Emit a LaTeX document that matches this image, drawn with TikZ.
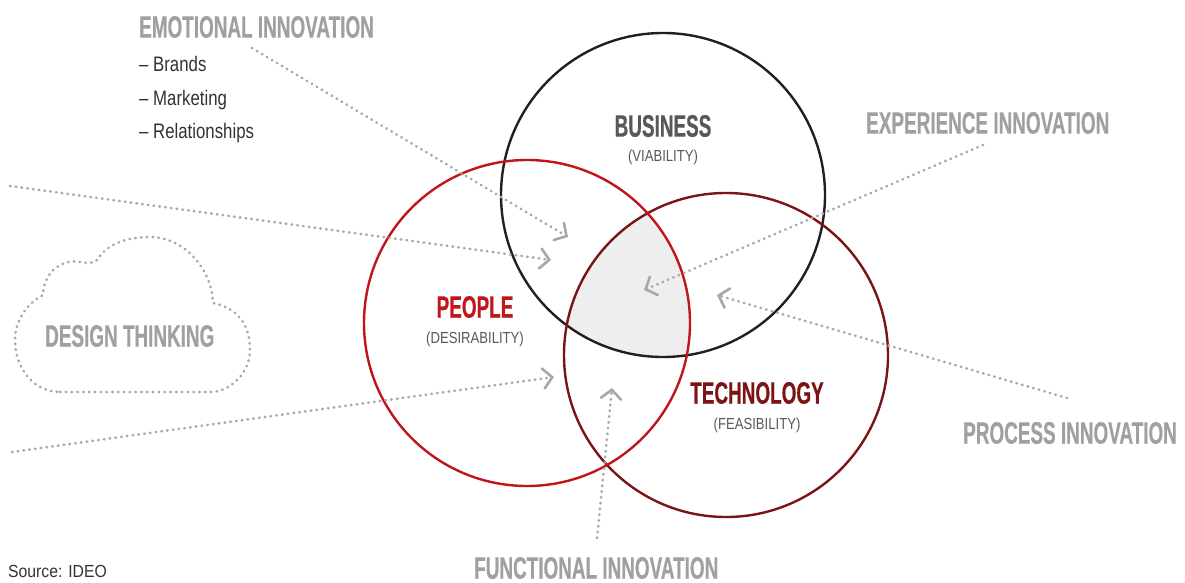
\documentclass[tikz,border=0pt]{standalone}
\usepackage{fontspec}
\setmainfont{Liberation Sans}
\newfontfamily\hdfont{Liberation Sans}[FakeStretch=0.61,FakeBold=0.5]
\newfontfamily\subfont{Liberation Sans}[FakeStretch=0.82]
\newfontfamily\srcfont{Liberation Sans}[FakeStretch=0.9]
\newfontfamily\listfont{Liberation Sans}[FakeStretch=0.8]
\usetikzlibrary{arrows.meta}
\definecolor{lbl}{HTML}{A0A0A2}
\definecolor{dotgray}{HTML}{A8A8AA}
\definecolor{pred}{HTML}{C0151B}
\definecolor{tred}{HTML}{7B1416}
\definecolor{bblack}{HTML}{231F20}
\definecolor{bizgray}{HTML}{58585A}
\definecolor{subgray}{HTML}{58585A}
\definecolor{listgray}{HTML}{333333}
\definecolor{triofill}{HTML}{EEEEEE}
\begin{document}
\begin{tikzpicture}[x=1pt,y=-1pt,
  head/.style={font=\hdfont\bfseries\fontsize{31}{31}\selectfont, text=lbl, inner sep=0pt},
  ctitle/.style={font=\hdfont\bfseries\fontsize{31}{31}\selectfont, inner sep=0pt},
  csub/.style={font=\subfont\fontsize{16}{16}\selectfont, text=subgray, inner sep=0pt},
  litem/.style={font=\listfont\fontsize{21}{21}\selectfont, text=listgray, inner sep=0pt, anchor=base west},
  dotline/.style={draw=dotgray, line width=2.7pt, dash pattern=on 0.5pt off 5.3pt, line cap=round},
  dotarrow/.style={dotline, -{Straight Barb[length=9pt,width=20pt,line width=2.6pt,line cap=round]}},
  ring/.style={line width=2.4pt}]
\useasboundingbox (0,0) rectangle (1185,583);

% filled triple intersection
\begin{scope}
  \clip (527,323) circle[radius=163];
  \clip (663,195) circle[radius=162];
  \fill[triofill] (726,355) circle[radius=162];
\end{scope}

% circles
\draw[ring, draw=bblack] (663,195) circle[radius=162];
\draw[ring, draw=tred] (726,355) circle[radius=162];
\draw[ring, draw=pred] (527,323) circle[radius=163];

% circle labels
\node[ctitle, text=bizgray] (biz) at (663,126) {BUSINESS};
\node[csub] (viab) at (663,157) {(VIABILITY)};
\node[ctitle, text=pred] (ppl) at (475,307) {PEOPLE};
\node[csub] (desi) at (475,339) {(DESIRABILITY)};
\node[ctitle, text=tred] (tech) at (757,393) {TECHNOLOGY};
\node[csub] (feas) at (757,425) {(FEASIBILITY)};

% outer labels
\node[head, anchor=west] (emo) at (139,27) {EMOTIONAL INNOVATION};
\node[litem] (l1) at (139,72) {– Brands};
\node[litem] (l2) at (139,106) {– Marketing};
\node[litem] (l3) at (139,139) {– Relationships};
\node[head, anchor=west] (exp) at (866,123) {EXPERIENCE INNOVATION};
\node[head, anchor=west] (proc) at (963,433) {PROCESS INNOVATION};
\node[head, anchor=west] (func) at (474,568) {FUNCTIONAL INNOVATION};
\node[head, anchor=west] (dt) at (45,336) {DESIGN THINKING};
\node[font=\srcfont\fontsize{17.5}{17.5}\selectfont, text=listgray, inner sep=0pt, anchor=base west] (src) at (8,577) {Source: IDEO};

% cloud
\draw[dotline] (60,392) -- (213,392)
  .. controls (232,390) and (250,372) .. (250,350)
  .. controls (250,325) and (238,308) .. (213,303)
  .. controls (212,270) and (185,237) .. (150,237)
  .. controls (125,237) and (108,245) .. (100,256)
  .. controls (96,265) and (86,263) .. (80,262)
  .. controls (60,258) and (43,275) .. (43,295)
  .. controls (25,305) and (15,322) .. (15,340)
  .. controls (15,370) and (35,392) .. (60,392);

% arrow coordinates
\coordinate (emoS) at (252,48);   \coordinate (emoE) at (568,237);
\coordinate (upS) at (10,186);    \coordinate (upE) at (551,260);
\coordinate (loS) at (12,452);    \coordinate (loE) at (554,377);
\coordinate (expS) at (983,145);  \coordinate (expE) at (644,290);
\coordinate (procS) at (1067,398);\coordinate (procE) at (717,295);
\coordinate (funS) at (597,538);  \coordinate (funE) at (612,388);

\draw[dotarrow] (emoS) -- (emoE);
\draw[dotarrow] (upS) -- (upE);
\draw[dotarrow] (loS) -- (loE);
\draw[dotarrow] (expS) -- (expE);
\draw[dotarrow] (procS) -- (procE);
\draw[dotarrow] (funS) -- (funE);
\end{tikzpicture}
\end{document}
